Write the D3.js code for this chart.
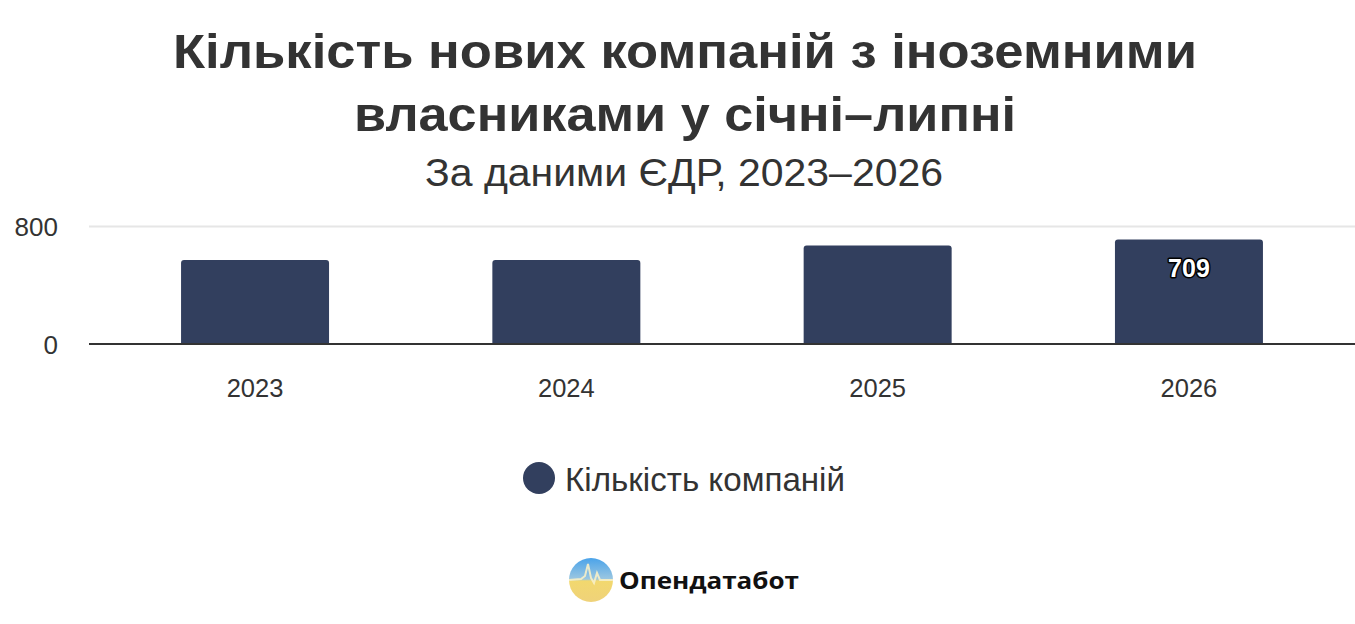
<!DOCTYPE html>
<html><head><meta charset="utf-8">
<script src="https://cdn.jsdelivr.net/npm/d3@7"></script>
<style>
html,body{margin:0;padding:0;background:#fff;}
svg{display:block;font-family:"Liberation Sans",Arial,Helvetica,sans-serif;}
</style></head>
<body>
<svg id="chart" width="1355" height="624"></svg>
<script>
const titleLines = ["Кількість нових компаній з іноземними", "власниками у січні–липні"];
const subtitle = "За даними ЄДР, 2023–2026";
const years = ["2023", "2024", "2025", "2026"];
const companies = [570, 569, 667, 709];
const yTicks = [0, 800];
const labelledYears = ["2026"];
const seriesName = "Кількість компаній";
const brand = "Опендатабот";

const svg = d3.select("#chart");
const W = 1355, H = 624;
svg.append("rect").attr("width", W).attr("height", H).attr("fill", "#fff");

// titles
const titleWidths = [1024, 662];
const tg = svg.append("g").attr("fill", "#333333").attr("text-anchor", "middle");
tg.selectAll("text.t").data(titleLines).join("text").attr("class", "t")
  .attr("x", 685).attr("y", (d, i) => 68 + i * 63)
  .attr("font-size", 49).attr("font-weight", "bold")
  .attr("textLength", (d, i) => titleWidths[i]).attr("lengthAdjust", "spacingAndGlyphs")
  .text(d => d);
tg.append("text").attr("x", 684).attr("y", 186).attr("font-size", 38)
  .attr("textLength", 518).attr("lengthAdjust", "spacingAndGlyphs").text(subtitle);

// scales
const x = d3.scaleBand().domain(years).range([99.4, 1344.6]).paddingInner(0.5246).paddingOuter(0.2623);
const y = d3.scaleLinear().domain([0, 800]).range([344, 226]);

// grid
svg.append("g").selectAll("line").data(yTicks.filter(d => d !== 0)).join("line")
  .attr("x1", 89).attr("x2", W).attr("y1", d => y(d) + 0.5).attr("y2", d => y(d) + 0.5)
  .attr("stroke", "#e6e6e6").attr("stroke-width", 2);

// y labels
svg.append("g").attr("fill", "#333").attr("font-size", 26).attr("text-anchor", "end")
  .selectAll("text").data(yTicks).join("text")
  .attr("x", 58).attr("y", d => y(d) + 10).text(d => d);

// bars
svg.append("g").selectAll("path").data(years).join("path")
  .attr("fill", "#323f5e")
  .attr("d", (d, i) => {
    const x0 = x(d), w = x.bandwidth(), y0 = y(companies[i]), y1 = y(0), r = 3;
    return `M${x0},${y1}V${y0 + r}Q${x0},${y0} ${x0 + r},${y0}H${x0 + w - r}Q${x0 + w},${y0} ${x0 + w},${y0 + r}V${y1}Z`;
  });

// axis line
svg.append("line").attr("x1", 89).attr("x2", W).attr("y1", 344).attr("y2", 344)
  .attr("stroke", "#333").attr("stroke-width", 2);

// x labels
svg.append("g").attr("fill", "#333").attr("font-size", 25.5).attr("text-anchor", "middle")
  .selectAll("text").data(years).join("text")
  .attr("x", d => x(d) + x.bandwidth() / 2).attr("y", 397).text(d => d);

// data labels
const lab = svg.append("g").attr("font-size", 25).attr("font-weight", "bold").attr("text-anchor", "middle");
lab.selectAll("text").data(labelledYears).join("text")
  .attr("x", d => x(d) + x.bandwidth() / 2)
  .attr("y", d => y(companies[years.indexOf(d)]) + 38)
  .attr("fill", "#fff").attr("stroke", "#000").attr("stroke-width", 3)
  .attr("paint-order", "stroke").attr("stroke-linejoin", "round")
  .text(d => companies[years.indexOf(d)]);

// legend
svg.append("circle").attr("cx", 539).attr("cy", 478).attr("r", 16).attr("fill", "#323f5e");
svg.append("text").attr("x", 565).attr("y", 491).attr("font-size", 33).attr("fill", "#333")
  .attr("textLength", 280).attr("lengthAdjust", "spacingAndGlyphs").text(seriesName);

// logo
const defs = svg.append("defs");
const grad = defs.append("linearGradient").attr("id", "lg").attr("x1", 0).attr("y1", 0).attr("x2", 0).attr("y2", 1);
grad.append("stop").attr("offset", "0%").attr("stop-color", "#4aa3ea");
grad.append("stop").attr("offset", "48%").attr("stop-color", "#9cc7e0");
grad.append("stop").attr("offset", "52%").attr("stop-color", "#f2d86e");
grad.append("stop").attr("offset", "100%").attr("stop-color", "#efd27a");
const lx = 591, ly = 580, lr = 22;
svg.append("circle").attr("cx", lx).attr("cy", ly).attr("r", lr).attr("fill", "url(#lg)");
const clip = defs.append("clipPath").attr("id", "lc");
clip.append("circle").attr("cx", lx).attr("cy", ly).attr("r", lr);
svg.append("path").attr("clip-path", "url(#lc)")
  .attr("d", `M${lx - lr},${ly} L${lx - 10},${ly - 1} L${lx - 6},${ly - 4} L${lx - 3},${ly - 16} L${lx},${ly - 2} L${lx + 3},${ly + 3} L${lx + 6},${ly - 7} L${lx + 9},${ly} L${lx + lr},${ly}`)
  .attr("fill", "none").attr("stroke", "#f7f0c8").attr("stroke-width", 2).attr("opacity", 0.9);
svg.append("text").attr("x", 619).attr("y", 589).attr("font-family", "'Open Sans', 'DejaVu Sans', sans-serif")
  .attr("font-weight", "bold").attr("font-size", 24).attr("fill", "#111")
  .attr("textLength", 180).attr("lengthAdjust", "spacingAndGlyphs").text(brand);
</script>
</body></html>
